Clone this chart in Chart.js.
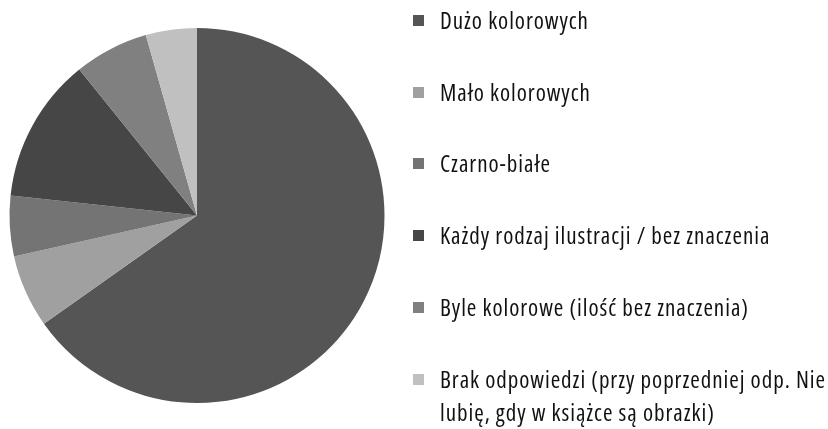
<!DOCTYPE html>
<html>
<head>
<meta charset="utf-8">
<script src="https://cdn.jsdelivr.net/npm/chart.js@4"></script>
<style>
  html, body { margin: 0; padding: 0; background: #fff; }
  #wrap { position: relative; width: 828px; height: 429px; }
  #myChart { position: absolute; left: 0; top: 0; }
  #legend {
    position: absolute; left: 413px; top: 0; width: 415px;
    font-family: "Open Sans", sans-serif; font-stretch: 75%;
    font-size: 23px; letter-spacing: 0.95px; color: #111;
  }
  .item { position: absolute; left: 0; display: flex; align-items: flex-start; }
  .box { width: 11px; height: 11px; margin-top: 11px; flex: none; }
  .txt { margin-left: 16px; line-height: 33px; width: 388px; }
</style>
</head>
<body>
<div id="wrap">
  <canvas id="myChart" width="828" height="429"></canvas>
  <div id="legend"></div>
</div>
<script>
'use strict';

let labels = [
  'Dużo kolorowych',
  'Mało kolorowych',
  'Czarno-białe',
  'Każdy rodzaj ilustracji / bez znaczenia',
  'Byle kolorowe (ilość bez znaczenia)',
  'Brak odpowiedzi (przy poprzedniej odp. Nie lubię, gdy w książce są obrazki)'
];
let values = [65.2, 6.3, 5.2, 12.5, 6.4, 4.4];
let colors = ['#555555', '#a0a0a0', '#747474', '#464646', '#808080', '#c0c0c0'];

let ctx = document.getElementById('myChart').getContext('2d');

let chart = new Chart(ctx, {
  type: 'pie',
  data: {
    labels: labels,
    datasets: [{
      data: values,
      backgroundColor: colors,
      borderWidth: 0
    }]
  },
  options: {
    responsive: false,
    animation: false,
    layout: { padding: { left: 9.5, right: 443.5, top: 28, bottom: 26 } },
    plugins: {
      legend: { display: false },
      tooltip: { enabled: false }
    }
  }
});

// html legend, the canvas one can't wrap the last label
let legend = document.getElementById('legend');
for (let i = 0; i < labels.length; i++) {
  let item = document.createElement('div');
  item.className = 'item';
  item.style.top = (4 + i * 71.7) + 'px';
  let box = document.createElement('span');
  box.className = 'box';
  box.style.background = chart.data.datasets[0].backgroundColor[i];
  let txt = document.createElement('span');
  txt.className = 'txt';
  txt.textContent = chart.data.labels[i];
  item.appendChild(box);
  item.appendChild(txt);
  legend.appendChild(item);
}
</script>
</body>
</html>
